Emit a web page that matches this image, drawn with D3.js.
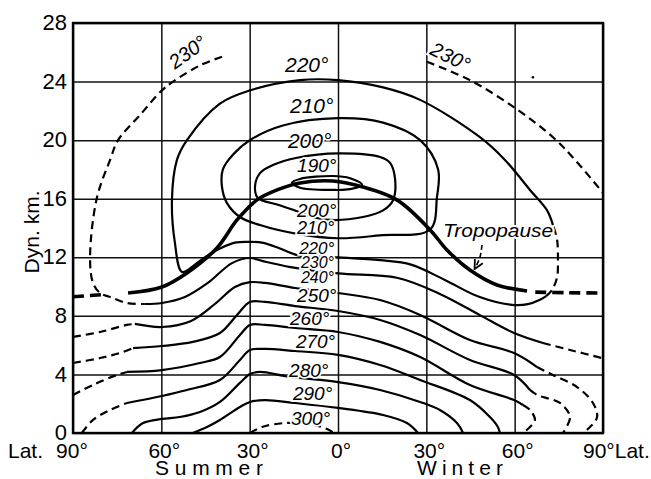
<!DOCTYPE html>
<html>
<head>
<meta charset="utf-8">
<script src="https://cdn.jsdelivr.net/npm/d3@7"></script>
<style>
body{margin:0;background:#fff;}
svg text{font-family:"Liberation Sans",Arial,sans-serif;fill:#000;}
</style>
</head>
<body>
<svg id="chart" width="651" height="479"></svg>
<script>
// axes
const latTicks = [-90, -60, -30, 0, 30, 60, 90];
const latLabels = ["90°", "60°", "30°", "0°", "30°", "60°", "90°"];
const kmTicks = [0, 4, 8, 12, 16, 20, 24, 28];

// isotherms, [latitude (summer < 0), dyn. km]
const tropoDashS = [[-90,9.3],[-80,9.45]];
const tropoSolid = [[-71.3,9.56],[-59.8,9.97],[-51.3,10.93],[-41.1,12.64],[-34.3,14.55],[-27.5,15.92],[-20.7,16.6],[-12.9,17.08],[-1.7,17.21],[8.5,16.8],[20,15.92],[31.3,13.87],[37,12.5],[44.8,11.13],[54,10.11],[64.2,9.7]];
const tropoDashW = [[67,9.62],[78,9.58],[90,9.56]];

const iso190 = [[-15.6,17.1],[-12.9,17.35],[-1.7,17.55],[4.1,17.4],[8.2,16.95],[4.1,16.65],[-1.7,16.6],[-12.9,16.75]];
const iso200 = [[-13.9,18.8],[0,19.1],[14.3,18.85],[17.7,18.45],[19.4,17.3],[18.7,15.9],[15.3,15.2],[8.5,14.75],[-2.7,14.55],[-9.5,14.8],[-13.9,15.15],[-20.7,15.6],[-27.2,16.05],[-28.2,16.8],[-26.5,17.75],[-22.1,18.3]];
const iso210 = [[0,21.5],[15.3,21.2],[27.9,20.0],[34.0,18.0],[33.6,16.1],[31.3,13.9],[14.3,13.5],[0,13.3],[-13.9,13.6],[-26.5,14.2],[-33.3,14.75],[-37.7,15.7],[-39.4,16.8],[-39.1,18.0],[-35.7,19.0],[-29.9,20.0],[-18.7,21.0]];
const iso220 = [[73,14.2],[71,15.2],[65.2,16.6],[56.7,18.65],[48.2,20.2],[27.9,22.75],[15.3,23.6],[0,24.1],[-12.9,24.1],[-29.9,23.4],[-40.1,22.5],[-51.3,20.0],[-54.7,18.65],[-56.4,15.9],[-55.4,13.0],[-53.0,11.0],[-48.6,11.5],[-44.5,12.1],[-40.1,12.6],[-35,13.0],[-29.9,13.05],[-25.8,13.0],[-19.7,12.6],[-13.9,12.15],[0,12.0],[14.3,11.8],[24.8,11.5],[36.3,10.45],[47.9,9.3],[59.1,8.75],[64.5,8.8],[68.6,9.1],[70.7,9.35]];
const iso220Dash = [[70.7,9.35],[72.7,9.77],[74.4,10.65],[74.7,11.8],[74.4,13.2],[73,14.2]];
const iso230DashS = [[-39.4,25.7],[-46.9,25.1],[-56.0,24.0],[-59.8,23.4],[-67.3,21.7],[-74.7,20.0],[-77.4,18.65],[-81.9,16.05],[-84.2,12.0],[-83.2,10.25],[-80.8,9.56],[-77.4,9.29],[-71.7,8.88],[-65.6,8.81]];
const iso230 = [[-65.6,8.81],[-59.8,8.88],[-52.0,9.29],[-44.2,10.25],[-36.0,11.6],[-29.9,11.95],[-25.8,11.75],[-16.6,11.35],[0,10.9],[20,10.6],[34.6,9.5],[48.2,8.05],[59.8,6.83],[69.6,6.15]];
const iso230DashW = [[69.6,6.15],[78.8,5.67],[90,5.1]];
const iso230Top = [[30.2,25.35],[44.8,24.1],[60.8,22.1],[73,20.2],[80.5,18.65],[90,16.4]];
const iso240DashS = [[-90,6.56],[-80.8,6.9],[-71.7,7.38],[-69,7.45]];
const iso240 = [[-69,7.45],[-59.8,7.24],[-49.9,7.65],[-41.8,8.81],[-35,9.97],[-29.9,10.3],[-24.8,10.25],[-14.6,9.9],[0,9.56],[14.3,9.08],[27.9,8.06],[44.8,6.35],[59.8,5.46],[67.6,4.5]];
const iso240DashW = [[67.6,4.5],[73,3.96],[81.2,3.14],[86.6,2.05],[88,1.09],[85.6,0.41],[83.2,0]];
const iso250DashS = [[-90,4.78],[-80.8,5.12],[-73,5.53],[-69.6,5.8]];
const iso250 = [[-69.6,5.8],[-59.8,5.94],[-49.3,6.22],[-40.1,6.83],[-34.3,8.06],[-29.9,8.95],[-24.8,8.95],[-14.6,8.67],[0,8.33],[14.3,7.72],[27.9,6.69],[44.8,4.99],[59.8,3.96],[65.2,2.94]];
const iso250DashW = [[65.2,2.94],[67.6,2.6],[75.4,2.05],[78.8,1.09],[76.4,0]];
const iso260DashS = [[-90,2.6],[-83.2,3.28],[-75.1,3.96],[-71.7,4.17]];
const iso260 = [[-71.7,4.17],[-59.8,4.3],[-46.9,4.78],[-40.1,5.19],[-33.3,6.69],[-29.9,7.38],[-24.8,7.38],[-14.6,7.17],[0,6.9],[14.3,6.22],[27.9,5.19],[44.8,3.28],[59.8,2.25],[62.8,1.91]];
const iso260DashW = [[62.8,1.91],[65.2,1.57],[66.9,0.89],[65.2,0.41],[62.8,0]];
const iso270DashS = [[-87,0],[-83.2,0.89],[-77.4,1.57],[-71.7,2.05]];
const iso270 = [[-71.7,2.05],[-59.8,2.53],[-51.3,2.94],[-40.1,3.62],[-33.3,4.99],[-29.9,5.67],[-24.8,5.74],[-14.6,5.6],[0,5.33],[14.3,4.64],[27.9,3.62],[44.8,2.25],[51.6,1.09],[54.3,0.41],[55,0]];
const iso280 = [[-70,0],[-66.2,0.68],[-59.8,0.96],[-53.7,1.09],[-46.9,1.43],[-40.1,2.12],[-33.3,3.42],[-29.9,4.03],[-26.5,4.17],[-16.3,3.83],[0,3.48],[14.3,2.94],[27.9,2.12],[34.6,1.57],[40.4,0.68],[42.5,0]];
const iso290 = [[-49.3,0],[-44.5,0.41],[-40.1,0.89],[-33.3,1.78],[-29.9,2.12],[-24.8,2.25],[-14.6,2.05],[0,1.71],[15.3,1.23],[23.4,0.68],[27.2,0]];
const iso300 = [[-29.9,0],[-25.8,0.41],[-18,0.68],[-9.5,0.61],[-3.7,0.27],[-1.4,0]];

// labels: text, lat, km (start of baseline), size
const isoLabels = [
    ["220°",-18.0,24.66,21],["210°",-16.3,21.86,21],["200°",-17.0,19.47,21],["190°",-13.9,17.83,19],
    ["200°",-13.9,14.75,19],["210°",-13.9,13.6,18],["220°",-13.2,12.2,17],["230°",-12.6,11.25,16],
    ["240°",-12.6,10.22,16],["250°",-13.9,8.95,19],["260°",-16.3,7.38,19],["270°",-14.3,5.8,19],
    ["280°",-16.6,3.83,19],["290°",-15.3,2.25,19],["300°",-16.0,0.55,19]
];
const tiltedLabels = [["230°",-55.4,24.8,-36],["230°",30.8,25.9,26]];
const tropoArrow = [[48.9,12.84],[48.2,12.0],[46.4,11.2]];

const svg = d3.select("#chart");
const x = d3.scaleLinear().domain([-90, 90]).range([73, 603]);
const y = d3.scaleLinear().domain([0, 28]).range([433, 23]);

// grid
const gx = svg.append("g")
    .attr("transform", `translate(0,${y(0)})`)
    .call(d3.axisBottom(x).tickValues(latTicks).tickSize(-(y(0) - y(28))).tickFormat(""));
gx.select(".domain").remove();
gx.selectAll("line").attr("stroke", "#111").attr("stroke-width", 1.5);

const gy = svg.append("g")
    .attr("transform", `translate(${x(-90)},0)`)
    .call(d3.axisLeft(y).tickValues(kmTicks).tickSize(-(x(90) - x(-90))).tickPadding(6));
gy.attr("font-size", 22).attr("font-family", "'Liberation Sans', Arial, sans-serif");
gy.select(".domain").remove();
gy.selectAll("line").attr("stroke", "#111").attr("stroke-width", 1.5);
gy.selectAll("text").attr("fill", "#000").attr("dy", "0.3em");

svg.append("rect")
    .attr("x", x(-90)).attr("y", y(28))
    .attr("width", x(90) - x(-90)).attr("height", y(0) - y(28))
    .attr("fill", "none").attr("stroke", "#000").attr("stroke-width", 2.4);

// contour pieces
const openLine = d3.line().x(d => x(d[0])).y(d => y(d[1])).curve(d3.curveCatmullRom.alpha(0.5));
const closedLine = d3.line().x(d => x(d[0])).y(d => y(d[1])).curve(d3.curveCatmullRomClosed.alpha(0.5));

const pieces = [
    {pts: iso190, closed: true}, {pts: iso200, closed: true}, {pts: iso210, closed: true},
    {pts: iso220}, {pts: iso220Dash, dash: true},
    {pts: iso230DashS, dash: true}, {pts: iso230}, {pts: iso230DashW, dash: true}, {pts: iso230Top, dash: true},
    {pts: iso240DashS, dash: true}, {pts: iso240}, {pts: iso240DashW, dash: true},
    {pts: iso250DashS, dash: true}, {pts: iso250}, {pts: iso250DashW, dash: true},
    {pts: iso260DashS, dash: true}, {pts: iso260}, {pts: iso260DashW, dash: true},
    {pts: iso270DashS, dash: true}, {pts: iso270},
    {pts: iso280}, {pts: iso290}, {pts: iso300, dash: true},
    {pts: tropoDashS, dash: true, thick: true}, {pts: tropoSolid, thick: true}, {pts: tropoDashW, dash: true, thick: true}
];

svg.append("g").selectAll("path").data(pieces).join("path")
    .attr("d", d => d.closed ? closedLine(d.pts) : openLine(d.pts))
    .attr("fill", "none")
    .attr("stroke", "#000")
    .attr("stroke-width", d => d.thick ? 3.6 : 2.2)
    .attr("stroke-linecap", "butt")
    .attr("stroke-dasharray", d => d.dash ? (d.thick ? "11,6" : "8,5") : null);

// labels on the isotherms
svg.append("g").selectAll("text").data(isoLabels).join("text")
    .attr("x", d => x(d[1])).attr("y", d => y(d[2]))
    .attr("font-size", d => d[3])
    .attr("font-style", "italic")
    .attr("stroke", "#fff").attr("stroke-width", 3.5).attr("paint-order", "stroke")
    .text(d => d[0]);

svg.append("g").selectAll("text").data(tiltedLabels).join("text")
    .attr("transform", d => `translate(${x(d[1])},${y(d[2])}) rotate(${d[3]})`)
    .attr("font-size", 20)
    .attr("font-style", "italic")
    .attr("stroke", "#fff").attr("stroke-width", 4).attr("paint-order", "stroke")
    .text(d => d[0]);

// Tropopause note
svg.append("text")
    .attr("x", x(35.7)).attr("y", y(13.39))
    .attr("font-size", 19).attr("font-style", "italic")
    .attr("textLength", 110).attr("lengthAdjust", "spacingAndGlyphs")
    .attr("stroke", "#fff").attr("stroke-width", 4).attr("paint-order", "stroke")
    .text("Tropopause");

svg.append("defs").append("marker")
    .attr("id", "arr").attr("viewBox", "0 0 10 10").attr("refX", 9).attr("refY", 5)
    .attr("markerWidth", 7).attr("markerHeight", 7).attr("orient", "auto")
    .append("path").attr("d", "M1,1 L9,5 L1,9").attr("fill", "none").attr("stroke", "#000").attr("stroke-width", 1.6);

svg.append("path")
    .attr("d", openLine(tropoArrow))
    .attr("fill", "none").attr("stroke", "#000").attr("stroke-width", 1.6)
    .attr("stroke-dasharray", "5,3")
    .attr("marker-end", "url(#arr)");

// stray dot from the original print
svg.append("circle").attr("cx", x(66.2)).attr("cy", y(24.3)).attr("r", 1.3).attr("fill", "#000");

// bottom axis labels
svg.append("g").selectAll("text").data(latTicks).join("text")
    .attr("x", (d, i) => i === 0 ? x(d) - 1 : (i === 6 ? x(d) - 20 : x(d) + 3))
    .attr("y", 458)
    .attr("font-size", 21)
    .attr("text-anchor", (d, i) => i === 6 ? "start" : "middle")
    .text((d, i) => i === 6 ? latLabels[i] + "Lat." : latLabels[i]);

svg.append("text").attr("x", 8).attr("y", 458).attr("font-size", 21).text("Lat.");

svg.append("text").attr("x", 155).attr("y", 475).attr("font-size", 21)
    .attr("textLength", 108).attr("lengthAdjust", "spacing").text("Summer");
svg.append("text").attr("x", 417).attr("y", 475).attr("font-size", 21)
    .attr("textLength", 86).attr("lengthAdjust", "spacing").text("Winter");

svg.append("text")
    .attr("transform", `translate(39,${y(13.73)}) rotate(-90)`)
    .attr("text-anchor", "middle")
    .attr("font-size", 21)
    .text("Dyn. km.");
</script>
</body>
</html>
